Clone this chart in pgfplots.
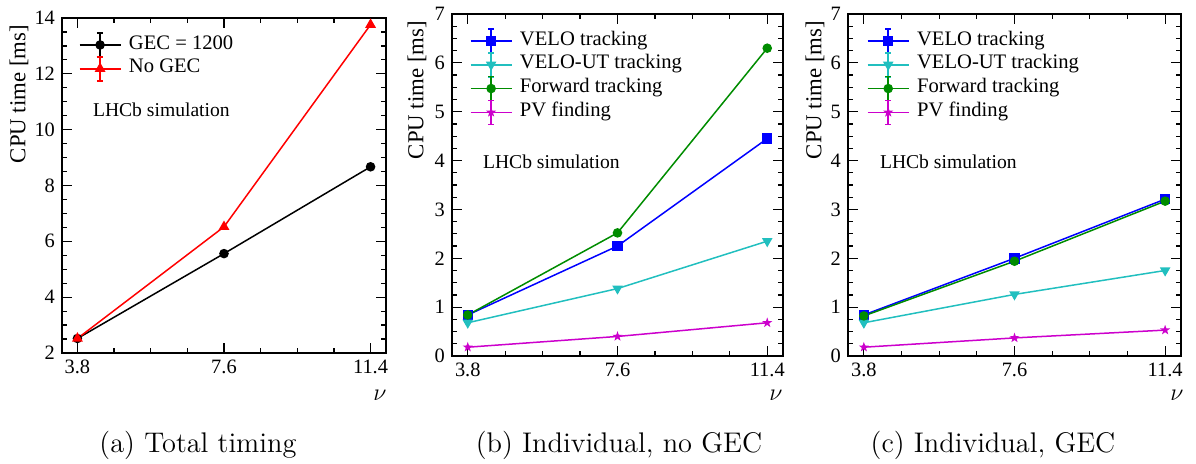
\documentclass[border=0pt]{standalone}
\usepackage{pgfplots}
\pgfplotsset{compat=1.18}
\usepackage{fontspec}
\newfontfamily\tnr{Liberation Serif}

\definecolor{rootblue}{rgb}{0,0,1}
\definecolor{rootcyan}{rgb}{0.13,0.75,0.75}
\definecolor{rootgreen}{rgb}{0,0.55,0}
\definecolor{rootmag}{rgb}{0.8,0,0.8}

% filled five-pointed star
\pgfdeclareplotmark{fstar}{%
  \pgfpathmoveto{\pgfqpointpolar{90}{\pgfplotmarksize}}%
  \pgfpathlineto{\pgfqpointpolar{126}{0.4\pgfplotmarksize}}%
  \pgfpathlineto{\pgfqpointpolar{162}{\pgfplotmarksize}}%
  \pgfpathlineto{\pgfqpointpolar{198}{0.4\pgfplotmarksize}}%
  \pgfpathlineto{\pgfqpointpolar{234}{\pgfplotmarksize}}%
  \pgfpathlineto{\pgfqpointpolar{270}{0.4\pgfplotmarksize}}%
  \pgfpathlineto{\pgfqpointpolar{306}{\pgfplotmarksize}}%
  \pgfpathlineto{\pgfqpointpolar{342}{0.4\pgfplotmarksize}}%
  \pgfpathlineto{\pgfqpointpolar{18}{\pgfplotmarksize}}%
  \pgfpathlineto{\pgfqpointpolar{54}{0.4\pgfplotmarksize}}%
  \pgfpathclose\pgfusepathqfillstroke}

\tikzset{lhcb/.style={anchor=west, font=\tnr\fontsize{9.8}{12}\selectfont}}

\pgfplotsset{
  rootframe/.style={
    scale only axis,
    xmin=3.4, xmax=11.8,
    xtick={3.8,7.6,11.4}, xticklabels={3.8,7.6,11.4},
    minor x tick num=3, minor y tick num=3,
    tick align=inside, xtick pos=both, ytick pos=both,
    major tick length=5pt, minor tick length=2.5pt,
    axis line style={line width=0.6pt},
    every tick/.style={black, line width=0.6pt},
    /pgf/number format/assume math mode=true,
    tick label style={font=\tnr\fontsize{10.2}{12}\selectfont},
    label style={font=\tnr\fontsize{11.4}{13}\selectfont},
    ylabel={CPU time [ms]},
    xlabel={\fontsize{12.5}{14}\selectfont$\nu$},
    xlabel style={anchor=center},
    ylabel style={anchor=east},
    legend cell align=left,
    legend style={draw=none, fill=none, anchor=north west,
      font=\tnr\fontsize{10.3}{12}\selectfont,
      inner sep=0pt, outer sep=0pt, row sep=0pt, column sep=3.8pt,
      nodes={inner sep=0pt, text height=8pt, text depth=3.9pt}},
    legend image code/.code={
      \draw[#1, mark=none, overlay] (10.25pt,-6pt) -- (10.25pt,6pt)
        (8.7pt,6pt) -- (11.8pt,6pt) (8.7pt,-6pt) -- (11.8pt,-6pt);
      \draw[mark repeat=2, mark phase=2, #1]
        plot coordinates {(0pt,0pt) (10.25pt,0pt) (20.5pt,0pt)};
    },
    every axis plot/.append style={line width=0.75pt},
  },
}

\begin{document}
\begin{tikzpicture}
\useasboundingbox (0,0) rectangle (598pt,232pt);

% (a) total timing
\begin{axis}[rootframe, at={(31pt,55.5pt)}, anchor=south west,
  width=162pt, height=167.5pt,
  ymin=2, ymax=14, ytick={2,4,...,14},
  ylabel style={at={(axis description cs:-0.133,1)}},
  xlabel style={at={(axis description cs:0.981,-0.125)}},
  legend style={at={(axis description cs:0.052,0.955)}}]
\addplot[black, mark=*, mark size=2pt]
  coordinates {(3.8,2.52) (7.6,5.56) (11.4,8.67)};
\addlegendentry{GEC = 1200}
\addplot[red, mark=triangle*, mark size=2.4pt]
  coordinates {(3.8,2.52) (7.6,6.52) (11.4,13.76)};
\addlegendentry{No GEC}
\node[lhcb] at (axis description cs:0.074,0.725) {LHCb simulation};
\end{axis}

% (b) individual, no GEC
\begin{axis}[rootframe, at={(226pt,54pt)}, anchor=south west,
  width=165.5pt, height=171pt,
  ymin=0, ymax=7, ytick={0,1,...,7},
  ylabel style={at={(axis description cs:-0.106,1)}},
  xlabel style={at={(axis description cs:0.979,-0.114)}},
  legend style={at={(axis description cs:0.054,0.956)}}]
\addplot[rootblue, mark=square*, mark size=2.25pt]
  coordinates {(3.8,0.84) (7.6,2.25) (11.4,4.45)};
\addlegendentry{VELO tracking}
\addplot[rootcyan, mark=triangle*, mark size=2.3pt, mark options={rotate=180}]
  coordinates {(3.8,0.68) (7.6,1.38) (11.4,2.35)};
\addlegendentry{VELO-UT tracking}
\addplot[rootgreen, mark=*, mark size=2pt]
  coordinates {(3.8,0.84) (7.6,2.52) (11.4,6.30)};
\addlegendentry{Forward tracking}
\addplot[rootmag, mark=fstar, mark size=1.5pt]
  coordinates {(3.8,0.18) (7.6,0.40) (11.4,0.68)};
\addlegendentry{PV finding}
\node[lhcb] at (axis description cs:0.0725,0.567) {LHCb simulation};
\end{axis}

% (c) individual, GEC
\begin{axis}[rootframe, at={(424pt,54pt)}, anchor=south west,
  width=166.5pt, height=171pt,
  ymin=0, ymax=7, ytick={0,1,...,7},
  ylabel style={at={(axis description cs:-0.099,1)}},
  xlabel style={at={(axis description cs:0.988,-0.114)}},
  legend style={at={(axis description cs:0.057,0.956)}}]
\addplot[rootblue, mark=square*, mark size=2.25pt]
  coordinates {(3.8,0.84) (7.6,2.00) (11.4,3.21)};
\addlegendentry{VELO tracking}
\addplot[rootcyan, mark=triangle*, mark size=2.3pt, mark options={rotate=180}]
  coordinates {(3.8,0.68) (7.6,1.26) (11.4,1.75)};
\addlegendentry{VELO-UT tracking}
\addplot[rootgreen, mark=*, mark size=2pt]
  coordinates {(3.8,0.82) (7.6,1.94) (11.4,3.17)};
\addlegendentry{Forward tracking}
\addplot[rootmag, mark=fstar, mark size=1.5pt]
  coordinates {(3.8,0.18) (7.6,0.37) (11.4,0.53)};
\addlegendentry{PV finding}
\node[lhcb] at (axis description cs:0.075,0.567) {LHCb simulation};
\end{axis}

% sub-figure captions
\node[font=\fontsize{14.2}{17}\selectfont] at (99pt,9.3pt) {(a) Total timing};
\node[font=\fontsize{14.2}{17}\selectfont] at (309.5pt,9.3pt) {(b) Individual, no GEC};
\node[font=\fontsize{14.2}{17}\selectfont] at (496.5pt,9.3pt) {(c) Individual, GEC};
\end{tikzpicture}
\end{document}
